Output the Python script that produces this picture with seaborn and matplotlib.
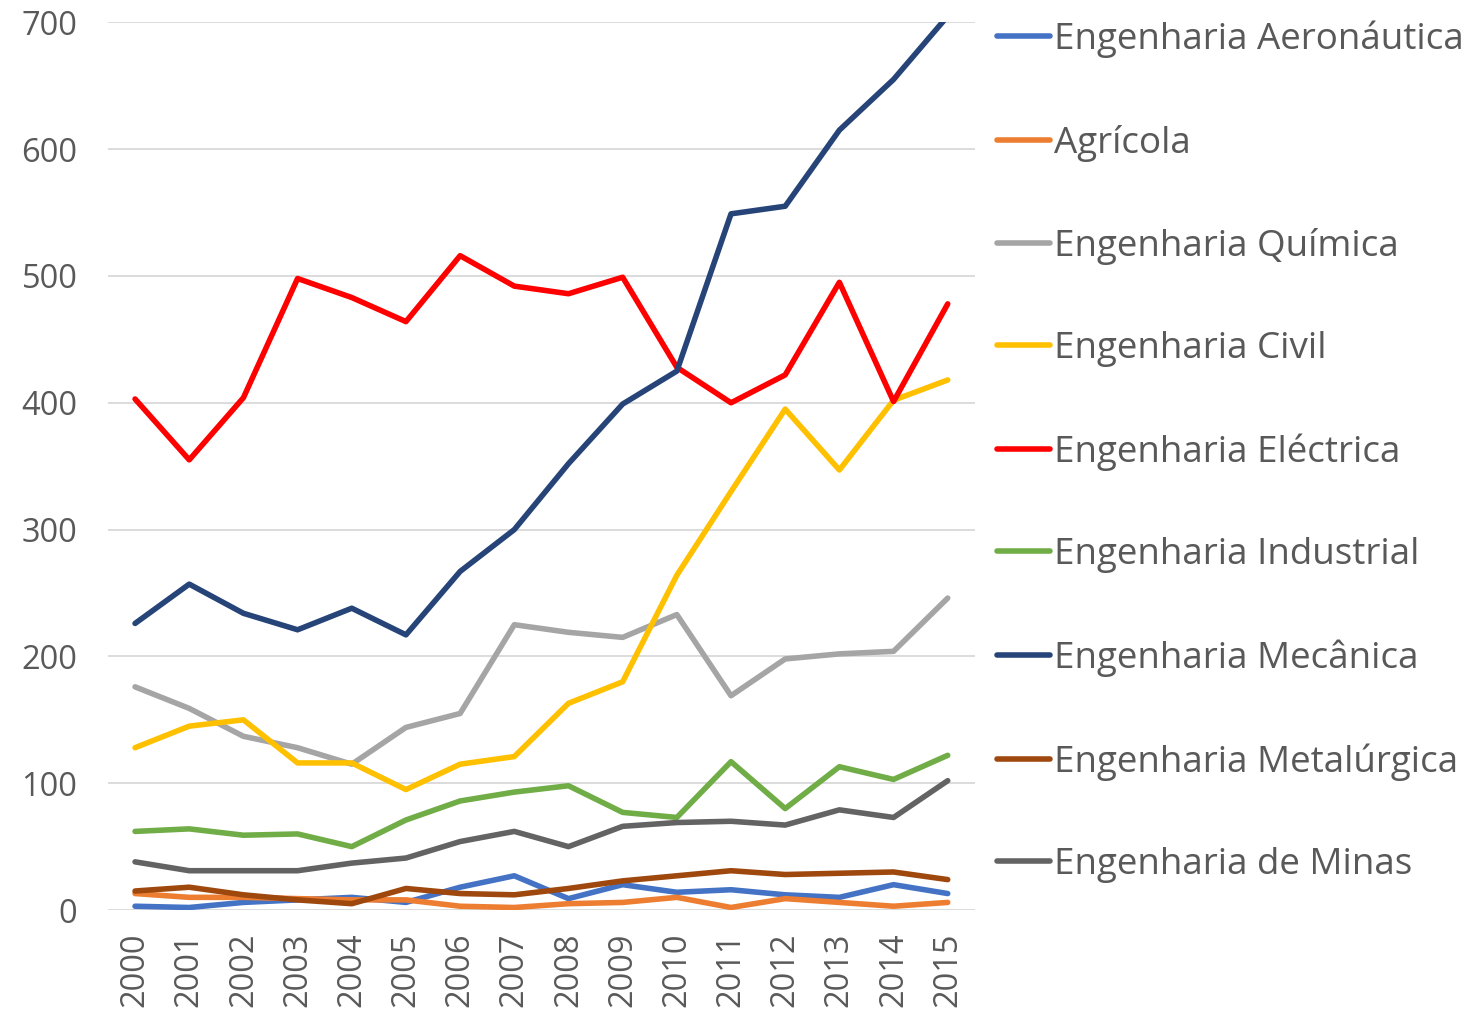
import pandas as pd
import matplotlib.pyplot as plt
import seaborn as sns

years = list(range(2000, 2016))

aeronautica = [3, 2, 6, 8, 10, 6, 18, 27, 9, 20, 14, 16, 12, 10, 20, 13]
agricola = [13, 10, 10, 9, 8, 8, 3, 2, 5, 6, 10, 2, 9, 6, 3, 6]
quimica = [176, 159, 137, 128, 115, 144, 155, 225, 219, 215, 233, 169, 198, 202, 204, 246]
civil = [128, 145, 150, 116, 116, 95, 115, 121, 163, 180, 264, 330, 395, 347, 402, 418]
electrica = [403, 355, 404, 498, 483, 464, 516, 492, 486, 499, 428, 400, 422, 495, 401, 478]
industrial = [62, 64, 59, 60, 50, 71, 86, 93, 98, 77, 73, 117, 80, 113, 103, 122]
mecanica = [226, 257, 234, 221, 238, 217, 267, 300, 352, 399, 425, 549, 555, 615, 655, 705]
metalurgica = [15, 18, 12, 8, 5, 17, 13, 12, 17, 23, 27, 31, 28, 29, 30, 24]
minas = [38, 31, 31, 31, 37, 41, 54, 62, 50, 66, 69, 70, 67, 79, 73, 102]

series = {
    "Engenharia Aeronáutica": aeronautica,
    "Agrícola": agricola,
    "Engenharia Química": quimica,
    "Engenharia Civil": civil,
    "Engenharia Eléctrica": electrica,
    "Engenharia Industrial": industrial,
    "Engenharia Mecânica": mecanica,
    "Engenharia Metalúrgica": metalurgica,
    "Engenharia de Minas": minas,
}
colors = ["#4472C4", "#ED7D31", "#A5A5A5", "#FFC000", "#FF0000",
          "#70AD47", "#264478", "#9E480E", "#636363"]

rows = []
for name, vals in series.items():
    for y, v in zip(years, vals):
        rows.append({"Ano": y, "Valor": v, "Curso": name})
data = pd.DataFrame(rows)

sns.set_style("white")
plt.rcParams['font.family'] = ['Open Sans', 'DejaVu Sans']
txt = "#595959"

fig = plt.figure(figsize=(14.77, 10.16), dpi=100)
ax = fig.add_axes([0.0731, 0.1043, 0.5869, 0.8737])

sns.lineplot(data=data, x="Ano", y="Valor", hue="Curso", palette=colors,
             linewidth=4.0, ax=ax, solid_capstyle="round")

ax.set_xlim(1999.5, 2015.5)
ax.set_ylim(0, 700)
ax.set_xticks(years)
ax.set_xticklabels([str(y) for y in years], rotation=90)
ax.set_yticks(range(0, 701, 100))
ax.grid(axis="y", color="#D9D9D9", linewidth=1.3)
ax.set_axisbelow(True)
for s in ax.spines.values():
    s.set_visible(False)
ax.tick_params(axis="both", colors=txt, labelsize=23.5, length=0)
ax.tick_params(axis="y", pad=22)
ax.tick_params(axis="x", pad=16)
ax.set_xlabel("")
ax.set_ylabel("")

handles, labels = ax.get_legend_handles_labels()
ax.legend(handles, labels, loc="upper left", bbox_to_anchor=(0.665, 0.994),
          bbox_transform=fig.transFigure,
          frameon=False, fontsize=26.5, labelcolor=txt, labelspacing=1.8,
          handlelength=1.45, handletextpad=0.1, borderaxespad=0, borderpad=0.4)

plt.savefig("out.png", dpi=100)
